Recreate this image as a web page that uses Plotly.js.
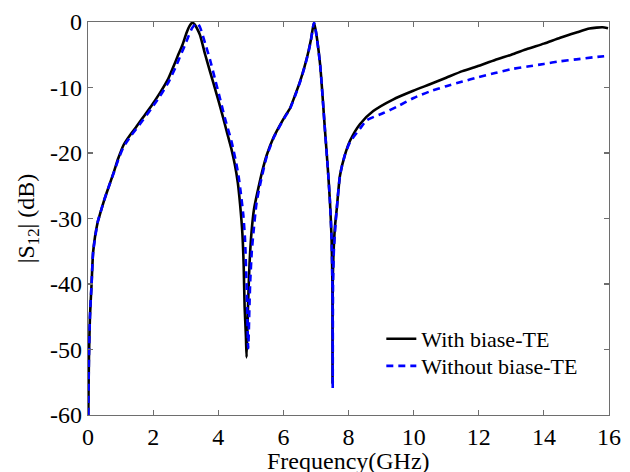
<!DOCTYPE html>
<html>
<head>
<meta charset="utf-8">
<script src="https://cdn.plot.ly/plotly-3.0.1.min.js"></script>
<style>html,body{margin:0;padding:0;background:#fff;}#chart{width:630px;height:472px;}</style>
</head>
<body>
<div id="chart"></div>
<script>
const freqWith = [0.01,0.02,0.03,0.06,0.11,0.16,0.3,0.37,0.49,0.62,0.8,0.93,1.1,1.3,1.47,1.7,1.96,2.2,2.47,2.65,2.77,2.9,3.03,3.12,3.2,3.28,3.35,3.44,3.6,3.75,3.85,4.0,4.15,4.26,4.4,4.51,4.6,4.67,4.74,4.78,4.81,4.85,4.87,4.9,4.92,4.96,5.02,5.1,5.23,5.35,5.49,5.7,5.9,6.05,6.2,6.35,6.51,6.65,6.77,6.85,6.94,7.0,7.13,7.28,7.36,7.43,7.48,7.505,7.51,7.515,7.535,7.58,7.64,7.74,7.89,8.05,8.35,8.76,9.38,9.99,10.5,11.0,11.5,11.94,12.5,13.0,13.5,14.0,14.5,15.0,15.4,15.62,15.8,15.97];
const s12With = [-60,-55,-51,-45,-40,-35,-30.5,-29.3,-27.3,-25.4,-22.8,-20.8,-18.7,-17.2,-16.1,-14.5,-12.7,-10.9,-8.6,-6.5,-5.0,-3.5,-1.6,-0.6,-0.1,-0.4,-1.0,-2.0,-5.0,-7.6,-9.3,-11.9,-14.6,-16.7,-19.3,-21.8,-24.5,-27.8,-32.2,-37,-43.5,-48,-51.2,-46,-42.4,-37,-32.2,-28.5,-25.4,-22.8,-20.3,-17.6,-15.7,-14.4,-13.2,-11.3,-9.1,-6.8,-4.5,-2.6,-0.1,-1.5,-6.6,-16.7,-22,-27.4,-33,-40,-55.2,-40,-36,-31.5,-28.5,-23.4,-20.3,-18.1,-15.6,-13.6,-11.8,-10.5,-9.5,-8.5,-7.5,-6.8,-5.8,-5.0,-4.1,-3.3,-2.4,-1.6,-1.0,-0.86,-0.8,-0.95];

const freqWithout = [0.01,0.02,0.03,0.06,0.11,0.16,0.3,0.37,0.49,0.62,0.8,0.93,1.1,1.3,1.47,1.7,1.96,2.2,2.47,2.7,2.85,2.98,3.1,3.2,3.29,3.36,3.44,3.6,3.75,3.9,4.05,4.2,4.41,4.55,4.62,4.69,4.77,4.82,4.87,4.92,4.96,4.98,5.03,5.08,5.18,5.3,5.49,5.7,5.9,6.05,6.2,6.35,6.51,6.65,6.77,6.85,6.94,7.0,7.13,7.28,7.36,7.43,7.48,7.505,7.515,7.525,7.55,7.6,7.64,7.74,7.89,8.05,8.35,8.56,9.07,9.5,10.0,10.5,11.0,11.5,12.0,12.5,13.0,13.5,14.0,14.5,15.0,15.5,15.9];
const s12Without = [-60,-55,-51,-45,-40,-35,-30.5,-29.3,-27.3,-25.4,-22.9,-21.0,-19.0,-17.5,-16.4,-14.9,-13.1,-11.4,-9.2,-6.8,-5.0,-3.5,-2.0,-0.9,-0.4,-0.2,-0.8,-3.3,-5.8,-8.7,-11.6,-14.6,-18.3,-21.5,-23.4,-26,-29.5,-33,-40,-49.8,-43,-39.9,-35,-32.2,-27.5,-24.5,-20.5,-17.7,-15.8,-14.5,-13.3,-11.4,-9.2,-6.9,-4.6,-2.7,-0.1,-1.5,-6.6,-16.7,-22,-27.4,-33,-40,-55.9,-40,-35,-31,-28.5,-23.4,-20.3,-18.3,-16.3,-15.0,-13.9,-12.9,-11.6,-10.6,-9.8,-9.1,-8.4,-7.8,-7.2,-6.8,-6.4,-6.0,-5.7,-5.4,-5.2];

const seriesNames = ['With biase-TE', 'Without biase-TE'];
const xTicks = [0,2,4,6,8,10,12,14,16];
const yTicks = [-60,-50,-40,-30,-20,-10,0];
const xTitle = 'Frequency(GHz)';
const yTitle = '|S<sub>12</sub>| (dB)';

const FONT = 'Liberation Serif, Times New Roman, serif';

const traces = [
  {x: freqWith, y: s12With, name: seriesNames[0], mode: 'lines', type: 'scatter', legend: 'legend',
   line: {color: '#000000', width: 2.6, shape: 'spline', smoothing: 0.6}},
  {x: freqWithout, y: s12Without, name: seriesNames[1], mode: 'lines', type: 'scatter', legend: 'legend2',
   line: {color: '#0000ff', width: 2.6, dash: '7px,5px', shape: 'spline', smoothing: 0.6}}
];

const axisCommon = {
  showgrid: false, zeroline: false, showline: true, mirror: 'ticks',
  linecolor: '#6e6e6e', linewidth: 1.2, ticks: 'inside', ticklen: 5, tickwidth: 1.2,
  tickcolor: '#6e6e6e', tickfont: {family: FONT, size: 24, color: '#000'}
};

const legendCommon = {xanchor: 'left', yanchor: 'top', bgcolor: 'rgba(0,0,0,0)',
  borderwidth: 0, font: {family: FONT, size: 22, color: '#000'}, tracegroupgap: 0};

const layout = {
  width: 630, height: 472,
  margin: {l: 88, r: 21, t: 22, b: 57},
  paper_bgcolor: '#fff', plot_bgcolor: '#fff',
  font: {family: FONT, size: 24, color: '#000'},
  showlegend: true,
  legend: Object.assign({}, legendCommon, {x: 0.563, y: 0.247}),
  legend2: Object.assign({}, legendCommon, {x: 0.563, y: 0.178}),
  xaxis: Object.assign({}, axisCommon, {range: [0, 16], tickvals: xTicks, ticktext: xTicks.map(String)}),
  yaxis: Object.assign({}, axisCommon, {range: [-60, 0], tickvals: yTicks, ticktext: yTicks.map(String),
           title: {text: yTitle, font: {family: FONT, size: 24}, standoff: 8}}),
  annotations: [
    {text: xTitle, xref: 'paper', yref: 'paper', x: 0.5, y: -0.078, xanchor: 'center', yanchor: 'top',
     showarrow: false, font: {family: FONT, size: 24, color: '#000'}}
  ]
};

Plotly.newPlot('chart', traces, layout, {displayModeBar: false, staticPlot: true});
</script>
</body>
</html>
